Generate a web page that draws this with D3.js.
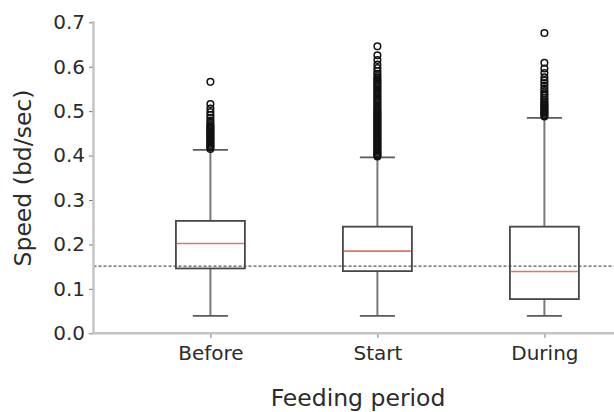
<!DOCTYPE html>
<html>
<head>
<meta charset="utf-8">
<script src="https://cdn.jsdelivr.net/npm/d3@7"></script>
<style>
  html, body { margin: 0; padding: 0; background: #fff; }
  svg { display: block; font-family: "DejaVu Sans", sans-serif; }
</style>
</head>
<body>
<svg id="chart" width="614" height="412"></svg>
<script>
// ---- data ----
const categories = ["Before", "Start", "During"];
const whiskerLow  = [0.039, 0.039, 0.039];
const q1          = [0.146, 0.140, 0.077];
const median      = [0.202, 0.185, 0.139];
const q3          = [0.253, 0.240, 0.240];
const whiskerHigh = [0.413, 0.396, 0.485];
const beforeOutliers = [0.566, 0.516, 0.506, 0.498, 0.491, 0.485, 0.479, 0.474, 0.469, 0.466, 0.463, 0.460, 0.457, 0.454, 0.451, 0.448, 0.445, 0.442, 0.439, 0.436, 0.433, 0.430, 0.427, 0.424, 0.421, 0.418, 0.415];
const startOutliers = [0.646, 0.626, 0.615, 0.605, 0.597, 0.590, 0.584, 0.579, 0.574, 0.570, 0.566, 0.562, 0.558, 0.554, 0.550, 0.546, 0.542, 0.538, 0.534, 0.530, 0.526, 0.522, 0.518, 0.514, 0.510, 0.506, 0.502, 0.499, 0.496, 0.493, 0.490, 0.487, 0.484, 0.481, 0.478, 0.475, 0.472, 0.469, 0.466, 0.463, 0.460, 0.457, 0.454, 0.451, 0.448, 0.445, 0.442, 0.439, 0.436, 0.433, 0.430, 0.427, 0.424, 0.421, 0.418, 0.415, 0.412, 0.409, 0.406, 0.403, 0.400, 0.398];
const duringOutliers = [0.676, 0.609, 0.596, 0.586, 0.576, 0.569, 0.563, 0.557, 0.551, 0.545, 0.540, 0.535, 0.530, 0.526, 0.522, 0.518, 0.515, 0.512, 0.509, 0.506, 0.503, 0.500, 0.497, 0.494, 0.491, 0.488];
const outliers = [beforeOutliers, startOutliers, duringOutliers];
const referenceLine = 0.151;
const yTicks = [0.0, 0.1, 0.2, 0.3, 0.4, 0.5, 0.6, 0.7];
const xLabel = "Feeding period";
const yLabel = "Speed (bd/sec)";

// ---- layout ----
const svg = d3.select("#chart");
const plotLeft = 93.5, plotBottom = 333.3, plotTop = 22.3;
const x = d3.scaleLinear().domain([0.3, 3.45]).range([plotLeft, plotLeft + 3.15 * 167]);
const y = d3.scaleLinear().domain([0, 0.7]).range([plotBottom, plotTop]);
const boxW = 0.413, capW = 0.21;
const pos = categories.map((c, i) => i + 1);

// reference dashed line
svg.append("line")
  .attr("x1", plotLeft).attr("x2", 614)
  .attr("y1", y(referenceLine)).attr("y2", y(referenceLine))
  .attr("stroke", "#555").attr("stroke-width", 1.3)
  .attr("stroke-dasharray", "3,2");

// boxes
const g = svg.append("g");
categories.forEach((c, i) => {
  const p = pos[i];
  const cx = x(p);
  const bx0 = x(p - boxW / 2), bx1 = x(p + boxW / 2);
  const cx0 = x(p - capW / 2), cx1 = x(p + capW / 2);
  g.append("line").attr("x1", cx).attr("x2", cx)
    .attr("y1", y(q3[i])).attr("y2", y(whiskerHigh[i]))
    .attr("stroke", "#7a7a7a").attr("stroke-width", 2);
  g.append("line").attr("x1", cx).attr("x2", cx)
    .attr("y1", y(q1[i])).attr("y2", y(whiskerLow[i]))
    .attr("stroke", "#7a7a7a").attr("stroke-width", 2);
  [whiskerHigh[i], whiskerLow[i]].forEach(v => {
    g.append("line").attr("x1", cx0).attr("x2", cx1)
      .attr("y1", y(v)).attr("y2", y(v))
      .attr("stroke", "#5a5a5a").attr("stroke-width", 1.7);
  });
  g.append("rect")
    .attr("x", bx0).attr("y", y(q3[i]))
    .attr("width", bx1 - bx0).attr("height", y(q1[i]) - y(q3[i]))
    .attr("fill", "none").attr("stroke", "#484848").attr("stroke-width", 1.8);
  g.append("line").attr("x1", bx0 + 1).attr("x2", bx1 - 1)
    .attr("y1", y(median[i])).attr("y2", y(median[i]))
    .attr("stroke", "#e27563").attr("stroke-width", 1.6);
  g.selectAll(null).data(outliers[i]).enter().append("circle")
    .attr("cx", cx).attr("cy", d => y(d)).attr("r", 3.3)
    .attr("fill", "none").attr("stroke", "#111").attr("stroke-width", 1.5);
});

// spines
svg.append("line").attr("x1", plotLeft).attr("x2", plotLeft)
  .attr("y1", plotTop - 1).attr("y2", plotBottom + 1)
  .attr("stroke", "#c4c4c4").attr("stroke-width", 2.5);
svg.append("line").attr("x1", plotLeft - 1).attr("x2", 614)
  .attr("y1", plotBottom).attr("y2", plotBottom)
  .attr("stroke", "#c4c4c4").attr("stroke-width", 2.5);

// y axis ticks
const yAxis = d3.axisLeft(y).tickValues(yTicks).tickFormat(d3.format(".1f"))
  .tickSize(3.5).tickPadding(4);
const yg = svg.append("g").attr("transform", `translate(${plotLeft - 1},0)`).call(yAxis);
yg.select(".domain").remove();
yg.selectAll(".tick line").attr("stroke", "#777").attr("stroke-width", 1);
yg.selectAll(".tick text").attr("fill", "#2b2b2b").attr("font-size", 20)
  .attr("font-family", "DejaVu Sans, sans-serif");

// x axis ticks
const xAxis = d3.axisBottom(x).tickValues(pos).tickFormat((d, i) => categories[i])
  .tickSize(3.5).tickPadding(8);
const xg = svg.append("g").attr("transform", `translate(0,${plotBottom + 1})`).call(xAxis);
xg.select(".domain").remove();
xg.selectAll(".tick line").attr("stroke", "#777").attr("stroke-width", 1);
xg.selectAll(".tick text").attr("fill", "#2b2b2b").attr("font-size", 20)
  .attr("font-family", "DejaVu Sans, sans-serif");

// axis labels
svg.append("text").attr("x", 358).attr("y", 406)
  .attr("text-anchor", "middle").attr("fill", "#2b2b2b").attr("font-size", 23.5)
  .text(xLabel);
svg.append("text").attr("transform", "translate(31,178) rotate(-90)")
  .attr("text-anchor", "middle").attr("fill", "#2b2b2b").attr("font-size", 23.5)
  .text(yLabel);
</script>
</body>
</html>
